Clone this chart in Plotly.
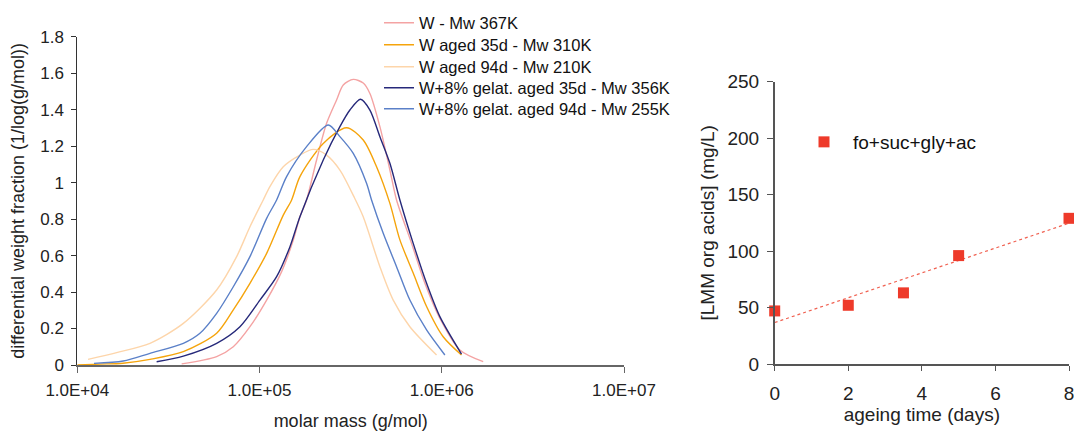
import numpy as np
import plotly.graph_objects as go

# ---------------- Left panel: molar mass distributions ----------------
names = ["W - Mw 367K", "W aged 35d - Mw 310K", "W aged 94d - Mw 210K",
         "W+8% gelat. aged 35d - Mw 356K", "W+8% gelat. aged 94d - Mw 255K"]
colors = ["#F4A3A3", "#F5A40C", "#FDD5AA", "#26297A", "#5B80C8"]

w_mass = [3.738e4, 5.816e4, 7.178e4, 8.860e4, 1.094e5, 1.322e5, 1.532e5, 1.666e5,
          1.812e5, 2.056e5, 2.333e5, 2.647e5, 2.880e5, 3.268e5, 3.707e5, 4.033e5,
          4.576e5, 5.192e5, 5.648e5, 6.827e5, 8.080e5, 9.763e5, 1.257e6, 1.688e6]
w_frac = [0.006, 0.046, 0.100, 0.210, 0.356, 0.512, 0.685, 0.813,
          0.905, 1.124, 1.325, 1.453, 1.535, 1.566, 1.546, 1.489,
          1.307, 1.069, 0.905, 0.667, 0.448, 0.256, 0.082, 0.018]

w35_mass = [1.0e4, 1.332e4, 1.781e4, 2.505e4, 3.818e4, 5.816e4, 7.178e4, 8.860e4,
            1.094e5, 1.350e5, 1.500e5, 1.666e5, 2.237e5, 3.004e5, 3.707e5, 4.387e5,
            5.192e5, 5.891e5, 6.971e5, 8.253e5, 1.018e6, 1.283e6]
w35_frac = [0.0, 0.005, 0.010, 0.031, 0.073, 0.174, 0.302, 0.448,
            0.612, 0.822, 0.905, 1.033, 1.215, 1.301, 1.234, 1.087,
            0.886, 0.686, 0.504, 0.321, 0.155, 0.055]

w94_mass = [1.145e4, 1.644e4, 2.505e4, 3.818e4, 5.816e4, 7.487e4, 8.860e4, 1.048e5,
            1.140e5, 1.350e5, 1.666e5, 1.972e5, 2.333e5, 2.761e5, 3.296e5, 3.707e5,
            4.576e5, 5.415e5, 6.683e5, 9.361e5]
w94_frac = [0.031, 0.068, 0.119, 0.228, 0.411, 0.594, 0.758, 0.905,
            0.978, 1.087, 1.151, 1.182, 1.151, 1.069, 0.923, 0.813,
            0.539, 0.356, 0.210, 0.055]

g35_mass = [2.725e4, 3.818e4, 5.816e4, 7.809e4, 1.005e5, 1.241e5, 1.469e5, 1.666e5,
            2.237e5, 2.761e5, 3.133e5, 3.585e5, 4.033e5, 4.576e5, 5.192e5, 5.891e5,
            6.971e5, 8.253e5, 9.763e5, 1.283e6]
g35_frac = [0.018, 0.049, 0.119, 0.210, 0.356, 0.484, 0.649, 0.813,
            1.124, 1.307, 1.398, 1.457, 1.398, 1.252, 1.106, 0.905,
            0.667, 0.448, 0.265, 0.060]

g94_mass = [1.235e4, 1.789e4, 2.505e4, 3.818e4, 4.711e4, 5.816e4, 7.178e4, 8.860e4,
            1.094e5, 1.241e5, 1.408e5, 1.812e5, 2.383e5, 2.761e5, 3.268e5, 3.866e5,
            4.118e5, 4.773e5, 5.648e5, 6.683e5, 8.253e5, 1.040e6]
g94_frac = [0.009, 0.022, 0.064, 0.119, 0.174, 0.283, 0.429, 0.594,
            0.804, 0.905, 1.033, 1.197, 1.316, 1.252, 1.160, 0.996,
            0.905, 0.722, 0.539, 0.356, 0.192, 0.055]

x_tickvals = [1e4, 1e5, 1e6, 1e7]
x_ticktext = ["1.0E+04", "1.0E+05", "1.0E+06", "1.0E+07"]

# ---------------- Right panel: LMM organic acids ----------------
age_days = [0, 2, 3.5, 5, 8]
acids = [47, 52, 63, 96, 129]
acid_name = "fo+suc+gly+ac"

FONT = "Liberation Sans, Arial, sans-serif"
W, H = 1074, 431
def px(x):
    return x / W
def py(y):
    return 1 - y / H

fig = go.Figure()

series = [(w_mass, w_frac), (w35_mass, w35_frac), (w94_mass, w94_frac),
          (g35_mass, g35_frac), (g94_mass, g94_frac)]
legend_ids = ["legend", "legend3", "legend4", "legend5", "legend6"]
row_centers = [22.5, 44.5, 66.5, 87.5, 108.5]
for (m, f), nm, c, lg in zip(series, names, colors, legend_ids):
    fig.add_trace(go.Scatter(x=m, y=f, mode="lines", name=nm,
                             line=dict(color=c, width=1.4, shape="spline", smoothing=0.8),
                             xaxis="x", yaxis="y", legend=lg))

# linear trend line fitted to the points (as in the original spreadsheet)
slope, intercept = np.polyfit(age_days, acids, 1)
tx = [0, 8]
fig.add_trace(go.Scatter(x=tx, y=[intercept + slope * t for t in tx], mode="lines",
                         line=dict(color="#F06050", width=1.2, dash="dot"), showlegend=False,
                         xaxis="x2", yaxis="y2"))
fig.add_trace(go.Scatter(x=age_days, y=acids, mode="markers", name=acid_name,
                         marker=dict(symbol="square", size=11, color="#EE3A2A"),
                         xaxis="x2", yaxis="y2", legend="legend2", cliponaxis=False))

legend_layout = {}
for lg, yc in zip(legend_ids, row_centers):
    legend_layout[lg] = dict(x=px(379), y=py(yc - 17), xanchor="left", yanchor="top",
                             bgcolor="rgba(0,0,0,0)", font=dict(size=16.5, color="#111"))

fig.update_layout(
    width=W, height=H, margin=dict(l=0, r=0, t=0, b=0, autoexpand=False),
    paper_bgcolor="white", plot_bgcolor="white",
    font=dict(family=FONT, size=17, color="#222"),
    xaxis=dict(type="log", range=[4, 7], domain=[px(77.3), px(624)], automargin=False,
               tickvals=x_tickvals, ticktext=x_ticktext, ticks="outside", ticklen=6,
               tickcolor="#666", showline=True, linecolor="#666", linewidth=2,
               ticklabelstandoff=3,
               showgrid=False, zeroline=False, anchor="y",
               title=dict(text="molar mass (g/mol)", font=dict(size=18), standoff=17)),
    yaxis=dict(range=[0, 1.8], domain=[py(365), py(36.7)], dtick=0.2, ticks="outside",
               ticklen=5, tickcolor="#333", showline=True, linecolor="#333", linewidth=1,
               ticklabelstandoff=4,
               showgrid=False, zeroline=False, anchor="x", automargin=False,
               title=dict(text="differential weight fraction (1/log(g/mol))", font=dict(size=18), standoff=10)),
    xaxis2=dict(range=[0, 8], domain=[px(774.7), px(1069)], dtick=2, ticks="outside", ticklen=5,
                tickcolor="#555", showline=True, linecolor="#555", linewidth=1.5, automargin=False,
                ticklabelstandoff=6, ticklabeloverflow="allow",
                showgrid=False, zeroline=False, anchor="y2", tickfont=dict(size=19),
                title=dict(text="ageing time (days)", font=dict(size=19), standoff=2)),
    yaxis2=dict(range=[0, 250], domain=[py(364), py(81.7)], dtick=50, ticks="outside", ticklen=6,
                tickcolor="#555", showline=True, linecolor="#555", linewidth=1.5, automargin=False,
                ticklabelstandoff=4,
                showgrid=False, zeroline=False, anchor="x2", tickfont=dict(size=19),
                title=dict(text="[LMM org acids] (mg/L)", font=dict(size=19), standoff=8)),
    legend2=dict(x=px(795), y=py(123), xanchor="left", yanchor="top", bgcolor="rgba(0,0,0,0)",
                 font=dict(size=19, color="#111"), itemwidth=48),
    **legend_layout,
)

fig.write_html("out.html", config={"displayModeBar": False},
               post_script="document.body.style.margin='0px';")
